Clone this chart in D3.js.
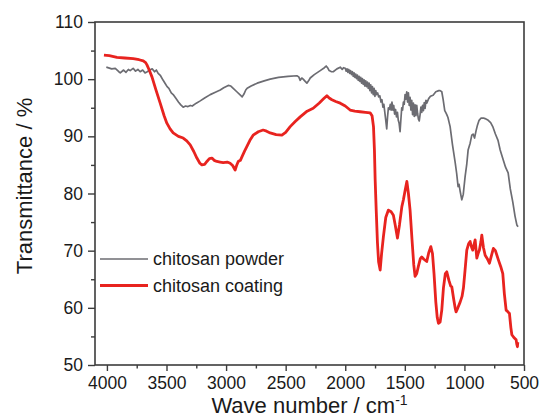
<!DOCTYPE html>
<html><head><meta charset="utf-8">
<script src="https://cdn.jsdelivr.net/npm/d3@7"></script>
<style>
body{margin:0;background:#fff;}
svg{display:block;font-family:"Liberation Sans",Arial,sans-serif;}
</style></head>
<body><svg id="c" width="539" height="420"></svg>
<script>
// Series: chitosan powder (gray)
const powderWn = [4005,3960,3930,3900,3888,3860,3840,3820,3805,3780,3760,3740,3721,3700,3680,3662,3640,3620,3600,3585,3570,3550,3528,3510,3495,3480,3460,3444,3420,3400,3380,3360,3340,3320,3300,3284,3250,3217,3180,3133,3090,3049,3020,2982,2960,2940,2910,2880,2865,2850,2835,2823,2790,2739,2680,2630,2560,2480,2406,2390,2378,2365,2353,2340,2322,2305,2294,2260,2210,2175,2160,2145,2135,2115,2101,2070,2042,2025,2015,2000,1992,1985,1978,1970,1963,1955,1948,1940,1933,1926,1919,1912,1905,1898,1891,1884,1877,1870,1863,1856,1849,1842,1835,1828,1821,1814,1807,1800,1793,1786,1779,1772,1765,1758,1751,1744,1737,1728,1720,1710,1700,1692,1684,1676,1668,1660,1652,1645,1638,1630,1622,1615,1608,1600,1593,1586,1578,1570,1562,1555,1548,1540,1533,1526,1519,1512,1505,1498,1491,1484,1477,1470,1463,1456,1449,1442,1435,1428,1421,1414,1407,1400,1393,1386,1379,1372,1365,1358,1351,1344,1337,1330,1323,1316,1300,1285,1263,1240,1215,1204,1190,1179,1165,1155,1148,1138,1128,1120,1100,1078,1065,1053,1045,1035,1022,1010,994,980,969,952,938,927,915,902,890,877,860,840,827,800,780,760,740,718,700,676,655,633,615,594,575,560,550,545];
const powderT = [102.1,101.8,101.9,101.3,101.1,101.6,101.2,101.7,101.5,101.9,101.4,101.7,101.3,101.6,101.1,101.3,101.6,101.8,101.3,101.6,101.0,100.6,99.8,99.2,98.7,98.4,97.6,97.3,96.6,96.0,95.5,95.1,95.3,95.2,95.4,95.3,95.8,96.2,96.7,97.3,97.7,98.1,98.5,98.9,98.8,98.4,97.8,97.2,96.9,97.4,98.1,98.4,98.8,99.3,99.7,100.0,100.3,100.5,100.6,100.4,99.8,100.2,100.0,99.7,99.3,99.8,100.2,100.8,101.5,102.0,102.3,101.9,101.5,101.3,101.3,101.8,102.1,101.7,102.0,101.9,101.4,101.8,101.2,101.7,101.0,101.5,100.8,101.3,100.5,101.1,100.3,100.9,100.1,100.7,99.8,100.5,99.6,100.3,99.3,100.1,99.1,99.9,98.8,99.7,98.7,99.5,98.4,99.3,98.0,99.0,97.6,98.7,97.3,98.4,97.0,98.0,97.3,97.6,96.9,97.1,96.0,96.4,95.1,95.6,94.2,92.8,91.3,93.4,95.0,94.7,95.6,94.6,96.0,94.6,95.4,93.9,94.7,93.4,94.2,92.8,92.3,90.8,93.0,95.0,94.6,96.0,95.6,97.3,96.5,97.8,96.0,97.6,95.4,96.8,94.6,96.3,93.8,95.8,93.5,95.5,93.6,95.4,94.0,93.0,92.7,93.8,95.1,94.2,95.4,94.5,95.9,94.9,96.3,95.8,96.6,97.0,97.2,97.8,98.0,98.0,97.8,96.5,94.5,94.1,93.8,93.3,92.4,91.7,88.5,85.5,83.5,81.2,81.6,80.3,78.9,79.8,83.0,85.2,87.6,88.8,90.2,90.4,89.7,91.0,92.0,92.8,93.2,93.2,93.1,92.8,92.4,91.6,90.4,89.3,87.6,86.0,84.6,83.6,80.8,78.5,76.0,74.5,74.2];
// Series: chitosan coating (red)
const coatingWn = [4025,3980,3916,3850,3779,3730,3695,3675,3664,3645,3622,3590,3553,3520,3497,3470,3444,3400,3360,3330,3301,3270,3245,3220,3203,3180,3161,3140,3119,3100,3077,3050,3024,2990,2966,2945,2924,2910,2898,2880,2867,2845,2826,2800,2773,2730,2689,2660,2630,2580,2532,2500,2462,2420,2378,2320,2269,2220,2180,2154,2135,2112,2080,2042,2000,1959,1920,1875,1830,1791,1775,1763,1755,1749,1740,1730,1720,1707,1695,1680,1660,1638,1615,1596,1580,1562,1545,1525,1512,1497,1483,1470,1456,1440,1425,1414,1400,1386,1370,1358,1340,1316,1300,1282,1268,1255,1240,1228,1218,1204,1190,1176,1160,1148,1130,1115,1106,1090,1078,1070,1055,1036,1020,1008,995,980,965,952,940,930,920,910,896,885,874,862,854,840,826,808,790,775,757,740,715,695,678,665,650,635,622,610,602,585,566,560,555,552];
const coatingT = [104.2,104.1,103.8,103.7,103.6,103.4,103.2,102.9,102.5,101.6,100.4,98.2,95.8,93.6,92.3,91.3,90.6,90.0,89.7,89.2,88.5,87.3,86.2,85.3,85.0,85.1,85.6,86.1,86.2,85.8,85.6,85.5,85.4,85.5,85.3,84.9,84.1,85.0,85.6,85.8,86.4,87.4,88.2,89.3,90.2,90.8,91.1,90.9,90.6,90.3,90.2,90.7,91.7,92.6,93.4,94.4,94.9,95.8,96.6,97.1,96.7,96.4,96.1,95.8,95.3,94.6,94.4,94.3,94.2,94.1,93.6,91.7,87.5,82.4,77.0,71.5,68.0,66.6,69.5,72.4,75.8,77.1,76.8,76.2,74.4,72.2,74.5,77.7,78.9,80.6,82.1,80.0,77.1,72.0,67.5,65.5,66.0,67.3,68.6,68.9,68.5,68.1,69.6,70.7,69.5,66.0,61.0,58.3,57.3,57.5,59.6,63.5,66.0,66.3,64.8,63.8,63.7,61.5,60.0,59.3,60.0,61.0,62.0,63.5,66.5,70.1,71.2,71.6,70.6,70.1,71.0,71.9,68.7,69.5,70.1,71.5,72.7,70.5,69.2,68.6,67.8,69.0,70.4,70.0,68.4,67.2,66.0,62.5,59.6,59.3,59.0,56.5,55.3,54.8,54.4,53.6,53.2,54.0];
const seriesNames = ["chitosan powder","chitosan coating"];
const xTicks = [4000,3500,3000,2500,2000,1500,1000,500];
const xMinor = [3750,3250,2750,2250,1750,1250,750];
const yTicks = [50,60,70,80,90,100,110];
const yMinor = [55,65,75,85,95,105];
const xTitle = "Wave number / cm";
const yTitle = "Transmittance / %";

const svg = d3.select("#c");
const L=95,R=524,T=22,B=365;
const x = d3.scaleLinear().domain([4100,500]).range([L,R]);
const y = d3.scaleLinear().domain([50,110]).range([B,T]);
const axisCol = "#3c3c3c";
const fs = "17.5px";

const gx = svg.append("g").attr("transform",`translate(0,${B})`)
  .call(d3.axisBottom(x).tickValues(xTicks).tickSize(6).tickPadding(6).tickFormat(d3.format("d")));
const gxm = svg.append("g").attr("transform",`translate(0,${B})`)
  .call(d3.axisBottom(x).tickValues(xMinor).tickSize(3.5).tickFormat(""));
const gy = svg.append("g").attr("transform",`translate(${L},0)`)
  .call(d3.axisLeft(y).tickValues(yTicks).tickSize(7).tickPadding(5).tickFormat(d3.format("d")));
const gym = svg.append("g").attr("transform",`translate(${L},0)`)
  .call(d3.axisLeft(y).tickValues(yMinor).tickSize(4).tickFormat(""));
[gx,gxm,gy,gym].forEach(g=>{
  g.select(".domain").remove();
  g.selectAll("line").attr("stroke",axisCol).attr("stroke-width",1.4);
  g.selectAll("text").attr("font-size",fs).attr("fill","#1a1a1a").attr("font-family","Liberation Sans, Arial, sans-serif");
});

svg.append("rect").attr("x",L).attr("y",T).attr("width",R-L).attr("height",B-T)
  .attr("fill","none").attr("stroke",axisCol).attr("stroke-width",1.6);

const line = d3.line().x(d=>x(d[0])).y(d=>y(d[1]));
const powder = powderWn.map((w,i)=>[w,powderT[i]]);
const coating = coatingWn.map((w,i)=>[w,coatingT[i]]);
svg.append("path").datum(powder).attr("d",line).attr("fill","none")
  .attr("stroke","#6c6c72").attr("stroke-width",1.7).attr("stroke-linejoin","round");
svg.append("path").datum(coating).attr("d",line).attr("fill","none")
  .attr("stroke","#e8231f").attr("stroke-width",2.8).attr("stroke-linejoin","round");

const leg = [{n:seriesNames[0],c:"#6c6c72",w:1.7,y:259},{n:seriesNames[1],c:"#e8231f",w:2.8,y:285.5}];
leg.forEach(d=>{
  svg.append("line").attr("x1",100).attr("x2",148).attr("y1",d.y).attr("y2",d.y)
    .attr("stroke",d.c).attr("stroke-width",d.w);
  svg.append("text").attr("x",153).attr("y",d.y).attr("dy","0.35em")
    .attr("font-size","18px").attr("fill","#1a1a1a").text(d.n);
});

const xt = svg.append("text").attr("x",(L+R)/2).attr("y",413).attr("text-anchor","middle")
  .attr("font-size","22px").attr("fill","#1a1a1a");
xt.append("tspan").text(xTitle);
xt.append("tspan").attr("dy","-8").attr("font-size","14px").text("-1");
svg.append("text").attr("transform","translate(32,186) rotate(-90)").attr("text-anchor","middle")
  .attr("font-size","22px").attr("fill","#1a1a1a").text(yTitle);
</script></body></html>
